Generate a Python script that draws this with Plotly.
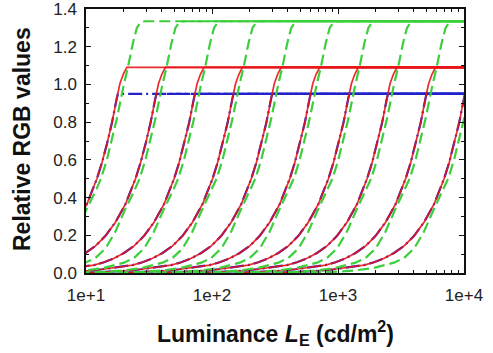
import plotly.graph_objects as go

# Luminance (cd/m^2) at which each exposure's red curve reaches 0.5
exposure_L50 = [12.2, 24.7, 50.0, 101, 205, 414, 839, 1700, 3440, 6950]

# Base curve shapes: log10(L / L50) offsets and relative values
red_logoff = [-1.35, -1.15, -0.99, -0.873, -0.714, -0.635, -0.556, -0.476, -0.397,
              -0.317, -0.238, -0.159, -0.079, 0.0, 0.040, 0.079, 0.119, 0.159,
              0.183, 0.210, 0.238, 4.5]
red_value = [0.0, 0.005, 0.012, 0.02, 0.033, 0.042, 0.057, 0.078, 0.106,
             0.144, 0.197, 0.269, 0.366, 0.5, 0.585, 0.682, 0.795, 0.93,
             1.005, 1.055, 1.09, 1.09]

green_logoff = [-1.19, -0.873, -0.714, -0.556, -0.397, -0.317, -0.238, -0.159,
                -0.087, 0.0, 0.032, 0.079, 0.159, 0.214, 0.246, 0.286, 0.317,
                0.349, 0.381, 4.5]
green_value = [0.0, 0.006, 0.013, 0.027, 0.055, 0.08, 0.13, 0.22,
               0.33, 0.45, 0.5, 0.6, 0.82, 1.0, 1.09, 1.22, 1.30,
               1.33, 1.335, 1.335]

blue_logoff = [-1.35, -1.15, -0.99, -0.873, -0.714, -0.635, -0.556, -0.476, -0.397,
               -0.317, -0.238, -0.159, -0.079, 0.0, 0.040, 0.079, 0.119, 0.159,
               0.167, 4.5]
blue_value = [0.0, 0.005, 0.012, 0.02, 0.033, 0.042, 0.057, 0.078, 0.106,
              0.144, 0.197, 0.269, 0.366, 0.5, 0.585, 0.682, 0.795, 0.93,
              0.95, 0.95]

x_tickvals = [10, 100, 1000, 10000]
x_ticktext = ["1e+1", "1e+2", "1e+3", "1e+4"]
x_minor = [m * d for d in (10, 100, 1000) for m in range(2, 10)]
y_tickvals = [0.0, 0.2, 0.4, 0.6, 0.8, 1.0, 1.2, 1.4]
y_ticktext = ["0.0", "0.2", "0.4", "0.6", "0.8", "1.0", "1.2", "1.4"]
y_minor = [0.1, 0.3, 0.5, 0.7, 0.9, 1.1, 1.3]

RED = "rgba(232,20,24,0.9)"
GREEN = "#3ccf3c"
BLUE = "#2222cc"
FONT = "Liberation Sans, Arial, sans-serif"


def curve(L50, logoff, value):
    xs = [L50 * 10 ** o for o in logoff]
    return xs, value


fig = go.Figure()

for L50 in exposure_L50:
    xs, ys = curve(L50, blue_logoff, blue_value)
    fig.add_trace(go.Scatter(x=xs, y=ys, mode="lines",
                             line=dict(color=BLUE, width=2.2, dash="14px,4px,2px,4px"),
                             showlegend=False, hoverinfo="skip"))
for L50 in exposure_L50:
    xs, ys = curve(L50, red_logoff, red_value)
    fig.add_trace(go.Scatter(x=xs, y=ys, mode="lines",
                             line=dict(color=RED, width=1.7),
                             showlegend=False, hoverinfo="skip"))
for L50 in exposure_L50:
    xs, ys = curve(L50, green_logoff, green_value)
    fig.add_trace(go.Scatter(x=xs, y=ys, mode="lines",
                             line=dict(color=GREEN, width=2.2, dash="11px,5px"),
                             showlegend=False, hoverinfo="skip"))

axis_common = dict(showline=True, linecolor="#111", linewidth=1.5, mirror="allticks",
                   ticks="inside", ticklen=5, tickwidth=1, tickcolor="#111",
                   showgrid=False, zeroline=False, automargin=False,
                   ticklabeloverflow="allow",
                   tickfont=dict(family=FONT, size=17, color="#222"))

fig.update_xaxes(type="log", range=[1, 4], tickmode="array", tickvals=x_tickvals,
                 ticktext=x_ticktext, ticklabelstandoff=6,
                 minor=dict(tickmode="array", tickvals=x_minor, ticks="inside", ticklen=3,
                            tickcolor="#111"),
                 **axis_common)
fig.update_yaxes(range=[0, 1.4], tickmode="array", tickvals=y_tickvals, ticktext=y_ticktext,
                 ticklabelstandoff=4,
                 minor=dict(tickmode="array", tickvals=y_minor, ticks="inside", ticklen=3,
                            tickcolor="#111"),
                 **axis_common)

fig.add_annotation(text="<b>Luminance <i>L</i><sub>E</sub> (cd/m<sup>2</sup>)</b>",
                   xref="paper", yref="paper", x=0.5, y=-0.227, xanchor="center", yanchor="middle",
                   showarrow=False, font=dict(family=FONT, size=23, color="#111"))
fig.add_annotation(text="<b>Relative RGB values</b>", textangle=-90,
                   xref="paper", yref="paper", x=-0.169, y=0.508, xanchor="center", yanchor="middle",
                   showarrow=False, font=dict(family=FONT, size=23, color="#111"))

fig.update_layout(width=493, height=353, margin=dict(l=86, r=29, t=9, b=80),
                  plot_bgcolor="white", paper_bgcolor="white")

fig.write_html("out.html", config={"displayModeBar": False},
               post_script="document.body.style.margin='0';document.body.style.padding='0';")
